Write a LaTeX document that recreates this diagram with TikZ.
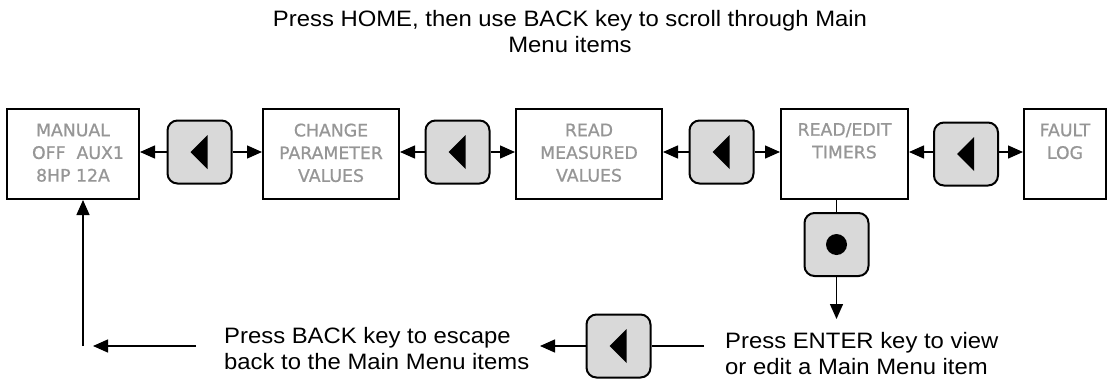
\documentclass[tikz,border=0pt]{standalone}
\usepackage{fontspec}
\setmainfont{Liberation Sans}[FakeStretch=1.07]
\newfontfamily\boxfont{DejaVu Sans}[FakeBold=0.8]
\usetikzlibrary{arrows.meta}
\definecolor{boxtextgray}{RGB}{150,150,150}
\definecolor{keyfill}{RGB}{217,217,217}
\newcommand\keytri[1]{\fill ([xshift=-9pt]#1.center) -- ([xshift=8pt,yshift=17pt]#1.center) -- ([xshift=8pt,yshift=-17pt]#1.center) -- cycle;}
\tikzset{
  menubox/.style={draw, line width=2pt, minimum height=90pt, inner sep=0pt},
  boxtext/.style={font=\boxfont\fontsize{17.3pt}{22.7pt}\selectfont, text=boxtextgray, align=center, inner sep=0pt, anchor=north},
  keybox/.style={draw, line width=2pt, fill=keyfill, rounded corners=10pt, minimum width=64pt, minimum height=63pt, inner sep=0pt},
  conn/.style={line width=1.4pt},
  arr/.style={line width=1.4pt, -{Triangle[length=15pt,width=13pt]}},
  note/.style={font=\fontsize{22.3pt}{26.6pt}\selectfont, inner sep=0pt, align=left},
}
\begin{document}
\begin{tikzpicture}[x=1pt,y=-1pt]
\useasboundingbox (0,0) rectangle (1108,381);
% title
\node[note, align=center, anchor=north] (title) at (570,9.7) {Press HOME, then use BACK key to scroll through Main\\Menu items};
% menu boxes
\node[menubox, minimum width=132pt] (b1) at (73,154) {};
\node[menubox, minimum width=136pt] (b2) at (331,154) {};
\node[menubox, minimum width=146pt] (b3) at (589,154) {};
\node[menubox, minimum width=127pt] (b4) at (844.5,154) {};
\node[menubox, minimum width=82pt] (b5) at (1065,154) {};
\node[boxtext] (t1) at ([yshift=-15.4pt]b1.north) {MANUAL\\\hspace*{10pt}OFF\ \ AUX1\\8HP 12A};
\node[boxtext] (t2) at ([yshift=-15.4pt]b2.north) {CHANGE\\PARAMETER\\VALUES};
\node[boxtext] (t3) at ([yshift=-15.4pt]b3.north) {READ\\MEASURED\\VALUES};
\node[boxtext] (t4) at ([yshift=-14.9pt]b4.north) {READ/EDIT\\TIMERS};
\node[boxtext] (t5) at ([yshift=-15.4pt]b5.north) {FAULT\\LOG};
% keys
\node[keybox] (k1) at (199.5,152) {};
\node[keybox] (k2) at (457.5,152) {};
\node[keybox] (k3) at (721.5,152) {};
\node[keybox] (k4) at (966,154) {};
\node[keybox] (k5) at (836.5,244.5) {};
\node[keybox] (k6) at (618.5,346) {};
\keytri{k1}
\keytri{k2}
\keytri{k3}
\keytri{k4}
\keytri{k6}
\fill (k5.center) circle (10.5pt);
% horizontal connectors
\draw[arr] (k1.west) -- (k1.west -| b1.east);
\draw[arr] (k1.east) -- (k1.east -| b2.west);
\draw[arr] (k2.west) -- (k2.west -| b2.east);
\draw[arr] (k2.east) -- (k2.east -| b3.west);
\draw[arr] (k3.west) -- (k3.west -| b3.east);
\draw[arr] (k3.east) -- (k3.east -| b4.west);
\draw[arr] ([yshift=2pt]k4.west) -- ([yshift=2pt]k4.west -| b4.east);
\draw[arr] ([yshift=2pt]k4.east) -- ([yshift=2pt]k4.east -| b5.west);
% enter path
\coordinate (e1) at (836.5,319);
\coordinate (e2) at (704,346);
\coordinate (e3) at (540,346);
\coordinate (e4) at (196,346);
\coordinate (e5) at (93,346);
\coordinate (e6) at (83,346);
\draw[conn] (k5.north) -- (k5.north |- b4.south);
\draw[arr] (k5.south) -- (e1);
\draw[conn] (e2) -- (k6.east);
\draw[arr] (k6.west) -- (e3);
\draw[arr] (e4) -- (e5);
\draw[arr] (e6) -- (e6 |- b1.south);
% notes
\node[note, anchor=north west] (enter) at (725,331.7) {Press ENTER key to view\\or edit a Main Menu item};
\node[note, anchor=north west] (back) at (224,326.7) {Press BACK key to escape\\back to the Main Menu items};
\end{tikzpicture}
\end{document}
